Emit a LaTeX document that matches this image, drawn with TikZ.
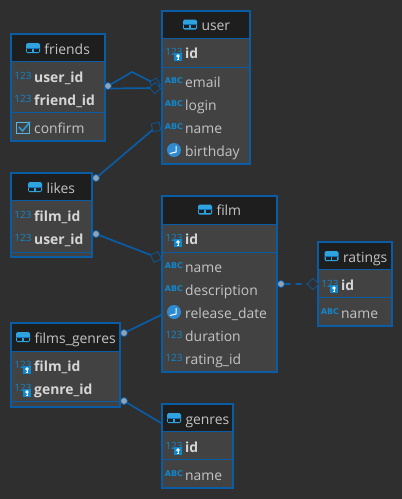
\documentclass[tikz,border=0pt]{standalone}
\usepackage{fontspec}
\setmainfont{Open Sans}
\newfontfamily\abcfont{DejaVu Sans}
\usetikzlibrary{shapes.geometric}
\definecolor{bgc}{HTML}{2F2F2F}
\definecolor{hdrc}{HTML}{1E1E1E}
\definecolor{bodyc}{HTML}{424242}
\definecolor{edgec}{HTML}{0A5CA5}
\definecolor{txtc}{HTML}{C4C4C4}
\definecolor{boldc}{HTML}{D6D6D6}
\definecolor{iconc}{HTML}{1287CC}
\definecolor{iconl}{HTML}{2FA3E0}
\definecolor{clockc}{HTML}{2E8BD2}
\definecolor{dotc}{HTML}{8FA3B5}
\tikzset{
  bodybox/.style={draw=edgec,line width=2.2pt,fill=bodyc,rectangle,anchor=north west,inner sep=0pt,outer sep=0pt},
  headbox/.style={fill=hdrc,rectangle,anchor=north west,inner sep=0pt,outer sep=0pt},
  titletext/.style={text=txtc,anchor=base west,inner sep=0pt,font=\fontsize{13.9}{16}\selectfont},
  fieldtext/.style={text=txtc,anchor=base west,inner sep=0pt,font=\fontsize{13.9}{16}\selectfont},
  keytext/.style={text=boldc,anchor=base west,inner sep=0pt,font=\fontsize{13.9}{16}\selectfont\bfseries},
  numtext/.style={text=iconc,inner sep=0pt,font=\fontsize{10}{10}\selectfont},
  abctext/.style={text=iconc,inner sep=0pt,font=\abcfont\fontsize{8}{8}\selectfont\bfseries},
  rel/.style={draw=edgec,line width=1.7pt},
  enddot/.style={circle,fill=dotc,draw=edgec,line width=.8pt,minimum size=7pt,inner sep=0pt,outer sep=0pt},
  enddia/.style={rectangle,draw=edgec!80!bgc,line width=.9pt,fill=bgc,minimum size=8pt,inner sep=0pt,outer sep=0pt},
}
% name, left, top, right, header bottom, bottom
\newcommand{\dbtable}[6]{%
  \pgfmathsetmacro{\tabw}{#4-#2}\pgfmathsetmacro{\hta}{#6-#3}\pgfmathsetmacro{\htb}{#5-#3}%
  \node[bodybox,minimum width=\tabw pt,minimum height=\hta pt] (#1) at (#2,#3) {};
  \node[headbox,minimum width=\tabw pt-2.2pt,minimum height=\htb pt-1.1pt] (#1-head) at (#2+1.1,#3+1.1) {};
  \draw[edgec,line width=1pt] (#2,#5) -- (#4,#5);
}
\newcommand{\sepline}[3]{\draw[edgec,line width=1pt] (#1,#3) -- (#2,#3);}
\newcommand{\tabicon}[2]{%
  \begin{scope}[shift={(#1,#2)}]
    \fill[iconl,rounded corners=1.5pt] (-7,-5) rectangle (7,5);
    \fill[hdrc] (-5.7,.8) rectangle (-.6,3.7);
    \fill[hdrc] (.6,.8) rectangle (5.7,3.7);
    \fill[edgec!70!iconl] (-7,-.2) rectangle (7,.8);
  \end{scope}}
\newcommand{\tabtitle}[4]{\tabicon{#2}{#3}\node[titletext] (#1) at (#2+11.3,#3+6) {#4};}
\newcommand{\numfield}[4]{\node[numtext] (#1-i) at (#2+12,#3-1.5) {123};\node[fieldtext] (#1) at (#2+23,#3+5) {#4};}
\newcommand{\abcfield}[4]{\node[abctext] (#1-i) at (#2+12,#3-1) {ABC};\node[fieldtext] (#1) at (#2+23,#3+5) {#4};}
\newcommand{\numbold}[4]{\node[numtext] (#1-i) at (#2+12,#3-1.5) {123};\node[keytext] (#1) at (#2+23,#3+5) {#4};}
\newcommand{\keybold}[4]{\node[numtext] (#1-i) at (#2+12,#3-1.5) {123};%
  \fill[iconc] (#2+12,#3) rectangle (#2+20,#3+8);
  \draw[white,line width=.9pt] (#2+16,#3+3) circle (1.3pt);
  \draw[white,line width=.9pt] (#2+16,#3+4.3) -- (#2+16,#3+6.8) -- (#2+14.5,#3+6.8);
  \node[keytext] (#1) at (#2+23,#3+5) {#4};}
\newcommand{\clockfield}[4]{%
  \fill[clockc] (#2+12,#3-1) circle (7);
  \draw[white,line width=1pt] (#2+14,#3-5) -- (#2+14,#3+1) -- (#2+8,#3+2.5);
  \node[fieldtext] (#1) at (#2+23,#3+5) {#4};}
\begin{document}
\begin{tikzpicture}[x=1pt,y=-1pt]
\useasboundingbox (0,0) rectangle (402,499);
\fill[bgc] (0,0) rectangle (402,499);

% tables
\dbtable{friends}{11}{34}{105}{61}{141}
\dbtable{user}{162}{11}{250}{38}{164}
\dbtable{likes}{11}{173}{92}{200}{257}
\dbtable{film}{162}{196}{277}{224}{372}
\dbtable{ratings}{318}{242}{392}{269}{326}
\dbtable{fgenres}{11}{323}{120}{351}{407}
\dbtable{genres}{162}{404}{233}{431}{488}

\sepline{11}{105}{112}
\sepline{162}{250}{67}
\sepline{11}{92}{252}
\sepline{162}{277}{252}
\sepline{318}{392}{297}
\sepline{11}{120}{401}
\sepline{162}{233}{459}

% titles
\tabtitle{tfriends}{33}{48}{friends}
\tabtitle{tuser}{190}{24.5}{user}
\tabtitle{tlikes}{35}{187}{likes}
\tabtitle{tfilm}{205}{209.5}{film}
\tabtitle{tratings}{331.5}{256}{ratings}
\tabtitle{tfgenres}{23}{337}{films\_genres}
\tabtitle{tgenres}{174}{418}{genres}

% friends
\numbold{fa}{11}{77}{user\_id}
\numbold{fb}{11}{100}{friend\_id}
\draw[iconl!80!white,line width=.9pt] (16.5,122) rectangle (29.5,133);
\draw[iconl,line width=1.4pt] (19,127) -- (22.5,131) -- (30,122);
\node[fieldtext] (fc) at (34,133) {confirm};

% user
\keybold{ua}{162}{53}{id}
\abcfield{ub}{162}{82}{email}
\abcfield{uc}{162}{105}{login}
\abcfield{ud}{162}{128}{name}
\clockfield{ue}{162}{151}{birthday}

% likes
\numbold{la}{11}{216}{film\_id}
\numbold{lb}{11}{239}{user\_id}

% film
\keybold{ma}{162}{239}{id}
\abcfield{mb}{162}{267}{name}
\abcfield{mc}{162}{290}{description}
\clockfield{md}{162}{313}{release\_date}
\numfield{me}{162}{336}{duration}
\numfield{mf}{162}{359}{rating\_id}

% ratings
\keybold{ra}{318}{285}{id}
\abcfield{rb}{318}{313}{name}

% films_genres
\keybold{ga}{11}{366}{film\_id}
\keybold{gb}{11}{389}{genre\_id}

% genres
\keybold{ha}{162}{447}{id}
\abcfield{hb}{162}{475}{name}

% connector ends
\node[enddot] (d1) at (108,86) {};
\node[enddia,rotate=30] (e1) at (155,83.5) {};
\node[enddia,rotate=40] (e2) at (155,88) {};
\node[enddot] (d2) at (96,178) {};
\node[enddia,rotate=12] (e3) at (156,127) {};
\node[enddot] (d3) at (96,234) {};
\node[enddia,rotate=25] (e4) at (156,257) {};
\node[enddot] (d4) at (124,333) {};
\coordinate (e5) at (161,315);
\node[enddot] (d5) at (124,401) {};
\coordinate (e6) at (161,423);
\node[enddot] (d6) at (281,284) {};
\node[enddia,rotate=45] (e7) at (313,284) {};
\coordinate (zig) at (132,72);

% connectors
\draw[rel] (d1) -- (zig) -- (e1);
\draw[rel] (d1.south east) -- (e2);
\draw[rel] (d2) -- (e3);
\draw[rel] (d3) -- (e4);
\draw[rel] (d4) -- (e5);
\draw[rel] (d5) -- (e6);
\draw[rel,dash pattern=on 6pt off 5pt] (d6) -- (e7);
\end{tikzpicture}
\end{document}
